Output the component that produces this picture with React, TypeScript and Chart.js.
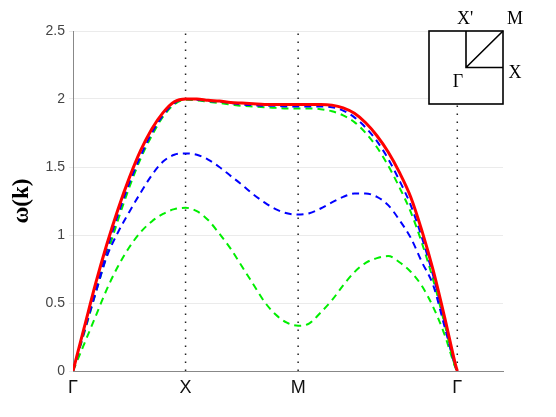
import React, { useEffect, useRef } from "react";
import { Chart, registerables } from "chart.js";

Chart.register(...registerables);

// Path coordinate along Γ → X → M → Γ (Γ-X = 1, X-M = 1, M-Γ = √2)
const kPath = [
  0, 0.1, 0.2, 0.3, 0.4, 0.5, 0.6, 0.7, 0.8, 0.9, 1.0,
  1.1, 1.2, 1.3, 1.4, 1.5, 1.6, 1.7, 1.8, 1.9, 2.0,
  2.1, 2.2, 2.3, 2.4, 2.5, 2.6, 2.7, 2.8, 2.9, 3.0, 3.1, 3.2, 3.3, 3.4, 3.414,
];

const symmetryPoints = [0, 1, 2, 3.414];
const symmetryLabels = ["Γ", "X", "M", "Γ"];
const yTickValues = [0, 0.5, 1, 1.5, 2, 2.5];

const redSolid = [
  0, 0.32, 0.64, 0.93, 1.19, 1.42, 1.62, 1.78, 1.9, 1.98, 2.0,
  2.0, 1.99, 1.985, 1.975, 1.97, 1.965, 1.96, 1.96, 1.96, 1.96,
  1.96, 1.96, 1.955, 1.935, 1.895, 1.825, 1.73, 1.61, 1.46, 1.28, 1.03, 0.74, 0.4, 0.04, 0,
];
const blueUpper = [
  0, 0.3, 0.6, 0.89, 1.15, 1.38, 1.58, 1.75, 1.88, 1.97, 2.0,
  1.995, 1.985, 1.98, 1.97, 1.96, 1.955, 1.95, 1.95, 1.945, 1.945,
  1.945, 1.945, 1.94, 1.915, 1.865, 1.79, 1.69, 1.56, 1.4, 1.22, 0.98, 0.7, 0.37, 0.03, 0,
];
const greenUpper = [
  0, 0.28, 0.57, 0.85, 1.11, 1.35, 1.56, 1.73, 1.87, 1.96, 1.995,
  1.99, 1.98, 1.97, 1.96, 1.95, 1.945, 1.94, 1.935, 1.93, 1.93,
  1.93, 1.925, 1.91, 1.88, 1.83, 1.75, 1.645, 1.51, 1.35, 1.17, 0.94, 0.67, 0.35, 0.02, 0,
];
const blueLower = [
  0, 0.29, 0.57, 0.84, 1.02, 1.17, 1.31, 1.44, 1.54, 1.59, 1.6,
  1.59, 1.555, 1.5, 1.435, 1.37, 1.3, 1.24, 1.19, 1.16, 1.15,
  1.16, 1.195, 1.24, 1.28, 1.305, 1.305, 1.28, 1.22, 1.11, 0.98, 0.8, 0.63, 0.33, 0.03, 0,
];
const greenLower = [
  0, 0.2, 0.4, 0.6, 0.77, 0.91, 1.02, 1.1, 1.155, 1.19, 1.2,
  1.175, 1.11, 1.01, 0.9, 0.77, 0.64, 0.51, 0.415, 0.355, 0.333,
  0.35, 0.43, 0.52, 0.63, 0.727, 0.795, 0.83, 0.845, 0.8, 0.73, 0.625, 0.47, 0.27, 0.02, 0,
];

const insetLabels = ["X'", "M", "X", "Γ"];

const toPoints = (ys: number[]) => ys.map((y, i) => ({ x: kPath[i], y }));

const insetPlugin = {
  id: "bzInset",
  afterDatasetsDraw(chart: any) {
    const { ctx, chartArea } = chart;
    const size = 74;
    const right = chartArea.right;
    const top = chartArea.top;
    const left = right - size;
    const cx = right - size / 2;
    const cy = top + (size - 1) / 2;
    ctx.save();
    ctx.fillStyle = "#ffffff";
    ctx.fillRect(left, top, size, size - 1);
    ctx.strokeStyle = "#000";
    ctx.lineWidth = 1.6;
    ctx.strokeRect(left, top, size, size - 1);
    ctx.beginPath();
    ctx.moveTo(cx, top);
    ctx.lineTo(cx, cy);
    ctx.lineTo(right, cy);
    ctx.moveTo(cx, cy);
    ctx.lineTo(right, top);
    ctx.stroke();
    ctx.fillStyle = "#000";
    ctx.font = "18px 'Liberation Serif', serif";
    ctx.textAlign = "center";
    ctx.textBaseline = "middle";
    ctx.fillText(insetLabels[0], cx - 1, top - 12);
    ctx.fillText(insetLabels[1], right + 12, top - 12);
    ctx.fillText(insetLabels[2], right + 12, cy + 6);
    ctx.fillText(insetLabels[3], cx - 8, cy + 15);
    ctx.restore();
  },
};

export default function App() {
  const ref = useRef<HTMLCanvasElement | null>(null);

  useEffect(() => {
    if (!ref.current) return;
    const dashed = [7, 5];
    const vlines = symmetryPoints.slice(1).map((k) => ({
      data: [
        { x: k, y: yTickValues[0] },
        { x: k, y: yTickValues[yTickValues.length - 1] },
      ],
      borderColor: "#222",
      borderWidth: 1.5,
      borderDash: [1.5, 6.5],
      pointRadius: 0,
      tension: 0,
    }));
    const curve = (data: number[], color: string, width: number, dash: number[]) => ({
      data: toPoints(data),
      borderColor: color,
      borderWidth: width,
      borderDash: dash,
      pointRadius: 0,
      cubicInterpolationMode: "monotone",
    });
    const chart = new Chart(ref.current, {
      type: "line",
      data: {
        datasets: [
          curve(redSolid, "#ff0000", 3, []),
          curve(blueUpper, "#0000ff", 2, dashed),
          curve(blueLower, "#0000ff", 2, dashed),
          curve(greenUpper, "#00ee00", 2, dashed),
          curve(greenLower, "#00ee00", 2, dashed),
          ...vlines,
        ] as any,
      },
      options: {
        animation: false,
        responsive: true,
        maintainAspectRatio: false,
        layout: { padding: { left: 0, right: 45, top: 23, bottom: 0 } },
        plugins: {
          legend: { display: false },
          tooltip: { enabled: false },
        },
        scales: {
          x: {
            type: "linear",
            min: 0,
            max: 3.82,
            afterBuildTicks: (scale: any) => {
              scale.ticks = symmetryPoints.map((v) => ({ value: v }));
            },
            afterFit: (scale: any) => {
              scale.height = 38;
            },
            ticks: {
              autoSkip: false,
              maxRotation: 0,
              padding: 6,
              color: "#111",
              font: { family: "'Liberation Sans', sans-serif", size: 18 },
              callback: (_v: any, i: number) => symmetryLabels[i],
            },
            grid: { display: false, drawTicks: false },
            border: { display: true, color: "#888", width: 1 },
          },
          y: {
            type: "linear",
            min: 0,
            max: 2.5,
            afterBuildTicks: (scale: any) => {
              scale.ticks = yTickValues.map((v) => ({ value: v }));
            },
            afterFit: (scale: any) => {
              scale.width = 65;
            },
            ticks: {
              padding: 4,
              color: "#444",
              font: { family: "'Liberation Sans', sans-serif", size: 14 },
              callback: (v: any) => String(v),
            },
            grid: { color: "#ebebeb", tickLength: 4, drawTicks: true },
            border: { display: true, color: "#888", width: 1 },
            title: {
              display: true,
              text: "ω(k)",
              color: "#000",
              padding: { top: 0, bottom: 0 },
              font: { family: "'Liberation Serif', serif", size: 23, weight: "bold" },
            },
          },
        },
      },
      plugins: [insetPlugin],
    });
    return () => chart.destroy();
  }, []);

  return (
    <div style={{ width: 540, height: 401, position: "relative" }}>
      <canvas ref={ref} />
    </div>
  );
}
